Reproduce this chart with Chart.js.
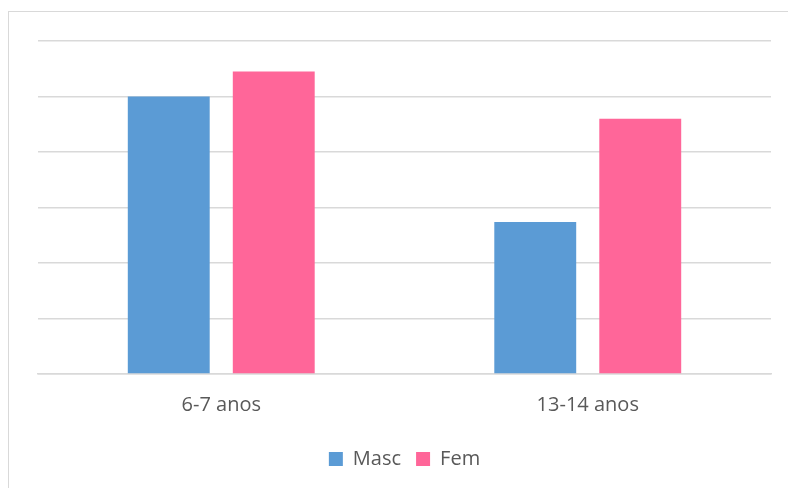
<!DOCTYPE html>
<html>
<head>
<meta charset="utf-8">
<script src="https://cdn.jsdelivr.net/npm/chart.js@4"></script>
<style>
  html, body { margin: 0; padding: 0; background: #fff; overflow: hidden; }
  #wrap { position: relative; width: 788px; height: 488px; }
  #frame { position: absolute; left: 8px; top: 11px; width: 800px; height: 500px; border: 1.5px solid #d9d9d9; box-sizing: border-box; }
  canvas { position: absolute; left: 0; top: 0; }
</style>
</head>
<body>
<div id="wrap">
  <div id="frame"></div>
  <canvas id="grafico" width="788" height="488"></canvas>
</div>
<script>
const categorias = ["6-7 anos", "13-14 anos"];
const masc = [5.0, 2.74];
const fem = [5.45, 4.6];

const fonte = { family: "'Open Sans'", size: 20 };

const ctx = document.getElementById("grafico").getContext("2d");
const chart = new Chart(ctx, {
  type: "bar",
  data: {
    labels: categorias,
    datasets: [
      {
        label: "Masc",
        data: masc,
        backgroundColor: "#5b9bd5",
        barPercentage: 0.78,
        categoryPercentage: 0.573,
      },
      {
        label: "Fem",
        data: fem,
        backgroundColor: "#ff6699",
        barPercentage: 0.78,
        categoryPercentage: 0.573,
      },
    ],
  },
  options: {
    responsive: false,
    animation: false,
    layout: { padding: { left: 38, right: 17, top: 41, bottom: 9 } },
    scales: {
      x: {
        grid: { display: false },
        border: { display: true, color: "#d9d9d9", width: 1.5 },
        ticks: { color: "#595959", font: fonte, padding: 11.5 },
        // espacio extra entre etiquetas y leyenda
        afterFit: (scale) => {
          scale.height += 5;
        },
      },
      y: {
        min: 0,
        max: 6,
        ticks: { display: false, stepSize: 1 },
        grid: { color: "#d9d9d9", lineWidth: 1.5, drawTicks: false },
        border: { display: false },
      },
    },
    plugins: {
      tooltip: { enabled: false },
      legend: {
        position: "bottom",
        labels: {
          boxWidth: 14,
          boxHeight: 14,
          color: "#595959",
          font: fonte,
          padding: 15,
        },
      },
    },
  },
});
</script>
</body>
</html>
